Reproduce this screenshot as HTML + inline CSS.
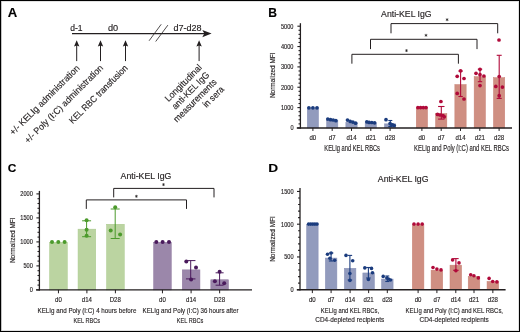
<!DOCTYPE html>
<html><head><meta charset="utf-8"><title>Figure</title>
<style>
html,body{margin:0;padding:0;background:#fff;width:520px;height:332px;overflow:hidden;}
svg{display:block;will-change:transform;}
text{font-family:"Liberation Sans", sans-serif;stroke:#231f20;stroke-width:0.15px;}
</style></head><body>
<svg width="520" height="332" viewBox="0 0 520 332">
<rect x="0.5" y="0.5" width="519" height="331" fill="#fff" stroke="#000" stroke-width="1"/>
<rect x="1.5" y="1.5" width="517" height="329" fill="none" stroke="#e2e2e2" stroke-width="1"/>
<line x1="1.5" y1="1" x2="1.5" y2="331" stroke="#c4c4c4" stroke-width="1"/>
<text x="7.67" y="17.4" font-size="12.75" fill="#000" font-weight="bold" textLength="9.49" lengthAdjust="spacingAndGlyphs" stroke="#000" stroke-width="0.25">A</text>
<text x="268.21" y="17.4" font-size="12.46" fill="#000" font-weight="bold" textLength="8.76" lengthAdjust="spacingAndGlyphs" stroke="#000" stroke-width="0.25">B</text>
<text x="7.82" y="172.4" font-size="11.57" fill="#000" font-weight="bold" textLength="8.6" lengthAdjust="spacingAndGlyphs" stroke="#000" stroke-width="0.25">C</text>
<text x="268.31" y="172" font-size="11.59" fill="#000" font-weight="bold" textLength="9.86" lengthAdjust="spacingAndGlyphs" stroke="#000" stroke-width="0.25">D</text>
<line x1="72" y1="33.6" x2="205" y2="33.6" stroke="#231f20" stroke-width="1.4"/>
<polygon points="202.3,30 211.6,33.6 202.3,37.2 204.3,33.6" fill="#231f20"/>
<line x1="149.1" y1="40.75" x2="161.2" y2="24.3" stroke="#231f20" stroke-width="0.8"/>
<line x1="155.7" y1="41.5" x2="167.9" y2="25.1" stroke="#231f20" stroke-width="0.8"/>
<text x="70.16" y="31.4" font-size="8.14" fill="#231f20" textLength="12.33" lengthAdjust="spacingAndGlyphs">d-1</text>
<text x="107.93" y="31.4" font-size="8.41" fill="#231f20" textLength="10.21" lengthAdjust="spacingAndGlyphs">d0</text>
<text x="173.54" y="31.4" font-size="8.14" fill="#231f20" textLength="28.11" lengthAdjust="spacingAndGlyphs">d7-d28</text>
<line x1="76.7" y1="45" x2="76.7" y2="61.1" stroke="#231f20" stroke-width="1.0"/>
<polygon points="74,46.6 76.7,40.2 79.4,46.6 76.7,45.6" fill="#231f20"/>
<line x1="100.5" y1="45" x2="100.5" y2="61.1" stroke="#231f20" stroke-width="1.0"/>
<polygon points="97.8,46.6 100.5,40.2 103.2,46.6 100.5,45.6" fill="#231f20"/>
<line x1="125.5" y1="45" x2="125.5" y2="61.1" stroke="#231f20" stroke-width="1.0"/>
<polygon points="122.8,46.6 125.5,40.2 128.2,46.6 125.5,45.6" fill="#231f20"/>
<line x1="199.1" y1="45" x2="199.1" y2="61.1" stroke="#231f20" stroke-width="1.0"/>
<polygon points="196.4,46.6 199.1,40.2 201.8,46.6 199.1,45.6" fill="#231f20"/>
<text x="0" y="0" font-size="9.2" fill="#231f20" text-anchor="end" textLength="94.7" lengthAdjust="spacingAndGlyphs" transform="translate(80.2 68.8) rotate(-45)">+/- KELIg administration</text>
<text x="0" y="0" font-size="9.2" fill="#231f20" text-anchor="end" textLength="106.6" lengthAdjust="spacingAndGlyphs" transform="translate(103.6 68.6) rotate(-45)">+/- Poly (I:C) administration</text>
<text x="0" y="0" font-size="9.2" fill="#231f20" text-anchor="end" textLength="78.8" lengthAdjust="spacingAndGlyphs" transform="translate(128.4 68.6) rotate(-45)">KEL RBC transfusion</text>
<text x="0" y="0" font-size="9.2" fill="#231f20" text-anchor="end" textLength="48.0" lengthAdjust="spacingAndGlyphs" transform="translate(202.5 68.2) rotate(-45)">Longitudinal</text>
<text x="0" y="0" font-size="9.2" fill="#231f20" text-anchor="end" textLength="48.8" lengthAdjust="spacingAndGlyphs" transform="translate(209.9 75.5) rotate(-45)">anti-KEL IgG</text>
<text x="0" y="0" font-size="9.2" fill="#231f20" text-anchor="end" textLength="56.7" lengthAdjust="spacingAndGlyphs" transform="translate(217.2 82.7) rotate(-45)">measurements</text>
<text x="0" y="0" font-size="9.2" fill="#231f20" text-anchor="end" textLength="25.6" lengthAdjust="spacingAndGlyphs" transform="translate(224.6 90.0) rotate(-45)">in sera</text>
<text x="381.1" y="17.1" font-size="8.55" fill="#231f20" textLength="50.54" lengthAdjust="spacingAndGlyphs" stroke-width="0.1">Anti-KEL IgG</text>
<rect x="307.25" y="107.85" width="11.3" height="20.1" fill="#929bbd" stroke="#8992b8" stroke-width="0.5"/>
<rect x="326.55" y="120.55" width="11.3" height="7.4" fill="#929bbd" stroke="#8992b8" stroke-width="0.5"/>
<rect x="345.85" y="122.25" width="11.3" height="5.7" fill="#929bbd" stroke="#8992b8" stroke-width="0.5"/>
<rect x="365.15" y="122.85" width="11.3" height="5.1" fill="#929bbd" stroke="#8992b8" stroke-width="0.5"/>
<rect x="384.45" y="123.85" width="11.3" height="4.1" fill="#929bbd" stroke="#8992b8" stroke-width="0.5"/>
<rect x="416.25" y="107.85" width="11.3" height="20.1" fill="#cf8f82" stroke="#c88074" stroke-width="0.5"/>
<rect x="435.55" y="113.55" width="11.3" height="14.4" fill="#cf8f82" stroke="#c88074" stroke-width="0.5"/>
<rect x="454.85" y="84.55" width="11.3" height="43.4" fill="#cf8f82" stroke="#c88074" stroke-width="0.5"/>
<rect x="474.15" y="76.65" width="11.3" height="51.3" fill="#cf8f82" stroke="#c88074" stroke-width="0.5"/>
<rect x="493.45" y="77.65" width="11.3" height="50.3" fill="#cf8f82" stroke="#c88074" stroke-width="0.5"/>
<line x1="300.4" y1="23.2" x2="300.4" y2="128.65" stroke="#231f20" stroke-width="1.3"/>
<line x1="297.4" y1="127.95" x2="300.4" y2="127.95" stroke="#231f20" stroke-width="1.1"/>
<text x="290.38" y="130.26" font-size="6.6" fill="#231f20" textLength="3.12" lengthAdjust="spacingAndGlyphs" stroke-width="0.05">0</text>
<line x1="298.5" y1="123.88" x2="300.4" y2="123.88" stroke="#231f20" stroke-width="1.1"/>
<line x1="298.5" y1="119.81" x2="300.4" y2="119.81" stroke="#231f20" stroke-width="1.1"/>
<line x1="298.5" y1="115.74" x2="300.4" y2="115.74" stroke="#231f20" stroke-width="1.1"/>
<line x1="298.5" y1="111.67" x2="300.4" y2="111.67" stroke="#231f20" stroke-width="1.1"/>
<line x1="297.4" y1="107.6" x2="300.4" y2="107.6" stroke="#231f20" stroke-width="1.1"/>
<text x="281.01" y="109.91" font-size="6.6" fill="#231f20" textLength="12.48" lengthAdjust="spacingAndGlyphs" stroke-width="0.05">1000</text>
<line x1="298.5" y1="103.53" x2="300.4" y2="103.53" stroke="#231f20" stroke-width="1.1"/>
<line x1="298.5" y1="99.46" x2="300.4" y2="99.46" stroke="#231f20" stroke-width="1.1"/>
<line x1="298.5" y1="95.39" x2="300.4" y2="95.39" stroke="#231f20" stroke-width="1.1"/>
<line x1="298.5" y1="91.32" x2="300.4" y2="91.32" stroke="#231f20" stroke-width="1.1"/>
<line x1="297.4" y1="87.25" x2="300.4" y2="87.25" stroke="#231f20" stroke-width="1.1"/>
<text x="281.01" y="89.56" font-size="6.6" fill="#231f20" textLength="12.48" lengthAdjust="spacingAndGlyphs" stroke-width="0.05">2000</text>
<line x1="298.5" y1="83.18" x2="300.4" y2="83.18" stroke="#231f20" stroke-width="1.1"/>
<line x1="298.5" y1="79.11" x2="300.4" y2="79.11" stroke="#231f20" stroke-width="1.1"/>
<line x1="298.5" y1="75.04" x2="300.4" y2="75.04" stroke="#231f20" stroke-width="1.1"/>
<line x1="298.5" y1="70.97" x2="300.4" y2="70.97" stroke="#231f20" stroke-width="1.1"/>
<line x1="297.4" y1="66.9" x2="300.4" y2="66.9" stroke="#231f20" stroke-width="1.1"/>
<text x="281.01" y="69.21" font-size="6.6" fill="#231f20" textLength="12.48" lengthAdjust="spacingAndGlyphs" stroke-width="0.05">3000</text>
<line x1="298.5" y1="62.83" x2="300.4" y2="62.83" stroke="#231f20" stroke-width="1.1"/>
<line x1="298.5" y1="58.76" x2="300.4" y2="58.76" stroke="#231f20" stroke-width="1.1"/>
<line x1="298.5" y1="54.69" x2="300.4" y2="54.69" stroke="#231f20" stroke-width="1.1"/>
<line x1="298.5" y1="50.62" x2="300.4" y2="50.62" stroke="#231f20" stroke-width="1.1"/>
<line x1="297.4" y1="46.55" x2="300.4" y2="46.55" stroke="#231f20" stroke-width="1.1"/>
<text x="281.01" y="48.86" font-size="6.6" fill="#231f20" textLength="12.48" lengthAdjust="spacingAndGlyphs" stroke-width="0.05">4000</text>
<line x1="298.5" y1="42.48" x2="300.4" y2="42.48" stroke="#231f20" stroke-width="1.1"/>
<line x1="298.5" y1="38.41" x2="300.4" y2="38.41" stroke="#231f20" stroke-width="1.1"/>
<line x1="298.5" y1="34.34" x2="300.4" y2="34.34" stroke="#231f20" stroke-width="1.1"/>
<line x1="298.5" y1="30.27" x2="300.4" y2="30.27" stroke="#231f20" stroke-width="1.1"/>
<line x1="297.4" y1="26.2" x2="300.4" y2="26.2" stroke="#231f20" stroke-width="1.1"/>
<text x="281.01" y="28.51" font-size="6.6" fill="#231f20" textLength="12.48" lengthAdjust="spacingAndGlyphs" stroke-width="0.05">5000</text>
<line x1="296.8" y1="127.95" x2="512" y2="127.95" stroke="#231f20" stroke-width="1.4"/>
<text x="0" y="0" font-size="7.6" fill="#231f20" textLength="45.71" lengthAdjust="spacingAndGlyphs" transform="translate(275 98.12) rotate(-90)">Normalized MFI</text>
<line x1="312.9" y1="127.95" x2="312.9" y2="130.95" stroke="#231f20" stroke-width="1.0"/>
<text x="309.51" y="139.6" font-size="6.9" fill="#231f20" textLength="6.75" lengthAdjust="spacingAndGlyphs" stroke-width="0.05">d0</text>
<line x1="332.2" y1="127.95" x2="332.2" y2="130.95" stroke="#231f20" stroke-width="1.0"/>
<text x="328.86" y="139.6" font-size="6.9" fill="#231f20" textLength="6.75" lengthAdjust="spacingAndGlyphs" stroke-width="0.05">d7</text>
<line x1="351.5" y1="127.95" x2="351.5" y2="130.95" stroke="#231f20" stroke-width="1.0"/>
<text x="346.41" y="139.6" font-size="6.9" fill="#231f20" textLength="10.13" lengthAdjust="spacingAndGlyphs" stroke-width="0.05">d14</text>
<line x1="370.8" y1="127.95" x2="370.8" y2="130.95" stroke="#231f20" stroke-width="1.0"/>
<text x="365.76" y="139.6" font-size="6.9" fill="#231f20" textLength="10.13" lengthAdjust="spacingAndGlyphs" stroke-width="0.05">d21</text>
<line x1="390.1" y1="127.95" x2="390.1" y2="130.95" stroke="#231f20" stroke-width="1.0"/>
<text x="385.05" y="139.6" font-size="6.9" fill="#231f20" textLength="10.13" lengthAdjust="spacingAndGlyphs" stroke-width="0.05">d28</text>
<line x1="421.9" y1="127.95" x2="421.9" y2="130.95" stroke="#231f20" stroke-width="1.0"/>
<text x="418.51" y="139.6" font-size="6.9" fill="#231f20" textLength="6.75" lengthAdjust="spacingAndGlyphs" stroke-width="0.05">d0</text>
<line x1="441.2" y1="127.95" x2="441.2" y2="130.95" stroke="#231f20" stroke-width="1.0"/>
<text x="437.86" y="139.6" font-size="6.9" fill="#231f20" textLength="6.75" lengthAdjust="spacingAndGlyphs" stroke-width="0.05">d7</text>
<line x1="460.5" y1="127.95" x2="460.5" y2="130.95" stroke="#231f20" stroke-width="1.0"/>
<text x="455.41" y="139.6" font-size="6.9" fill="#231f20" textLength="10.13" lengthAdjust="spacingAndGlyphs" stroke-width="0.05">d14</text>
<line x1="479.8" y1="127.95" x2="479.8" y2="130.95" stroke="#231f20" stroke-width="1.0"/>
<text x="474.76" y="139.6" font-size="6.9" fill="#231f20" textLength="10.13" lengthAdjust="spacingAndGlyphs" stroke-width="0.05">d21</text>
<line x1="499.1" y1="127.95" x2="499.1" y2="130.95" stroke="#231f20" stroke-width="1.0"/>
<text x="494.05" y="139.6" font-size="6.9" fill="#231f20" textLength="10.13" lengthAdjust="spacingAndGlyphs" stroke-width="0.05">d28</text>
<text x="324.34" y="150.9" font-size="8.26" fill="#231f20" textLength="55.66" lengthAdjust="spacingAndGlyphs">KELIg and KEL RBCs</text>
<text x="414.03" y="151.1" font-size="8.26" fill="#231f20" textLength="94.99" lengthAdjust="spacingAndGlyphs">KELIg and Poly (I:C) and KEL RBCs</text>
<line x1="390.3" y1="120.5" x2="390.3" y2="126.5" stroke="#1b3c7e" stroke-width="1.1"/>
<line x1="388.3" y1="120.5" x2="392.3" y2="120.5" stroke="#1b3c7e" stroke-width="1.1"/>
<line x1="388.3" y1="126.5" x2="392.3" y2="126.5" stroke="#1b3c7e" stroke-width="1.1"/>
<line x1="441.3" y1="106.5" x2="441.3" y2="119.1" stroke="#b00a3a" stroke-width="1.1"/>
<line x1="438.1" y1="106.5" x2="444.5" y2="106.5" stroke="#b00a3a" stroke-width="1.1"/>
<line x1="438.1" y1="119.1" x2="444.5" y2="119.1" stroke="#b00a3a" stroke-width="1.1"/>
<line x1="460.6" y1="71.1" x2="460.6" y2="96.5" stroke="#b00a3a" stroke-width="1.1"/>
<line x1="458.4" y1="71.1" x2="462.8" y2="71.1" stroke="#b00a3a" stroke-width="1.1"/>
<line x1="458.4" y1="96.5" x2="462.8" y2="96.5" stroke="#b00a3a" stroke-width="1.1"/>
<line x1="480" y1="69.2" x2="480" y2="81.7" stroke="#b00a3a" stroke-width="1.1"/>
<line x1="477.8" y1="69.2" x2="482.2" y2="69.2" stroke="#b00a3a" stroke-width="1.1"/>
<line x1="477.8" y1="81.7" x2="482.2" y2="81.7" stroke="#b00a3a" stroke-width="1.1"/>
<line x1="499.2" y1="55.3" x2="499.2" y2="98.4" stroke="#b00a3a" stroke-width="1.1"/>
<line x1="496.7" y1="55.3" x2="501.7" y2="55.3" stroke="#b00a3a" stroke-width="1.1"/>
<line x1="496.7" y1="98.4" x2="501.7" y2="98.4" stroke="#b00a3a" stroke-width="1.1"/>
<circle cx="308.9" cy="107.8" r="1.85" fill="#1b3c7e"/>
<circle cx="312.9" cy="107.8" r="1.85" fill="#1b3c7e"/>
<circle cx="317" cy="107.8" r="1.85" fill="#1b3c7e"/>
<circle cx="327.8" cy="119.1" r="1.85" fill="#1b3c7e"/>
<circle cx="330.5" cy="119.7" r="1.85" fill="#1b3c7e"/>
<circle cx="333.2" cy="120" r="1.85" fill="#1b3c7e"/>
<circle cx="335.9" cy="120.7" r="1.85" fill="#1b3c7e"/>
<circle cx="347.5" cy="120.1" r="1.85" fill="#1b3c7e"/>
<circle cx="350.2" cy="121.4" r="1.85" fill="#1b3c7e"/>
<circle cx="352.9" cy="122.1" r="1.85" fill="#1b3c7e"/>
<circle cx="355.6" cy="123.2" r="1.85" fill="#1b3c7e"/>
<circle cx="366.8" cy="121.8" r="1.85" fill="#1b3c7e"/>
<circle cx="369.1" cy="122.4" r="1.85" fill="#1b3c7e"/>
<circle cx="371.8" cy="122.5" r="1.85" fill="#1b3c7e"/>
<circle cx="374.6" cy="122.8" r="1.85" fill="#1b3c7e"/>
<circle cx="386" cy="119.7" r="1.85" fill="#1b3c7e"/>
<circle cx="390.1" cy="123.5" r="1.85" fill="#1b3c7e"/>
<circle cx="394.2" cy="125.5" r="1.85" fill="#1b3c7e"/>
<circle cx="392.5" cy="124.8" r="1.85" fill="#1b3c7e"/>
<circle cx="417.9" cy="107.6" r="1.85" fill="#b00a3a"/>
<circle cx="420.6" cy="107.6" r="1.85" fill="#b00a3a"/>
<circle cx="423.3" cy="107.6" r="1.85" fill="#b00a3a"/>
<circle cx="426" cy="107.6" r="1.85" fill="#b00a3a"/>
<circle cx="440.9" cy="101.5" r="1.85" fill="#b00a3a"/>
<circle cx="437.5" cy="114.4" r="1.85" fill="#b00a3a"/>
<circle cx="440" cy="115" r="1.85" fill="#b00a3a"/>
<circle cx="443" cy="115.7" r="1.85" fill="#b00a3a"/>
<circle cx="444.3" cy="116.8" r="1.85" fill="#b00a3a"/>
<circle cx="460.6" cy="70.8" r="1.85" fill="#b00a3a"/>
<circle cx="457.2" cy="76.3" r="1.85" fill="#b00a3a"/>
<circle cx="464" cy="78.5" r="1.85" fill="#b00a3a"/>
<circle cx="457.2" cy="93.4" r="1.85" fill="#b00a3a"/>
<circle cx="464" cy="99" r="1.85" fill="#b00a3a"/>
<circle cx="480" cy="69.3" r="1.85" fill="#b00a3a"/>
<circle cx="476" cy="73.3" r="1.85" fill="#b00a3a"/>
<circle cx="480" cy="74.7" r="1.85" fill="#b00a3a"/>
<circle cx="483.9" cy="76" r="1.85" fill="#b00a3a"/>
<circle cx="480" cy="85.6" r="1.85" fill="#b00a3a"/>
<circle cx="499" cy="40" r="1.85" fill="#b00a3a"/>
<circle cx="499.2" cy="76.5" r="1.85" fill="#b00a3a"/>
<circle cx="495.8" cy="86.4" r="1.85" fill="#b00a3a"/>
<circle cx="502.4" cy="87.1" r="1.85" fill="#b00a3a"/>
<circle cx="499.2" cy="95.7" r="1.85" fill="#b00a3a"/>
<polyline points="391,33.3 391,23.6 497.7,23.6 497.7,33.3" fill="none" stroke="#231f20" stroke-width="1.0"/>
<polyline points="370.5,49.1 370.5,39.3 477,39.3 477,49.1" fill="none" stroke="#231f20" stroke-width="1.0"/>
<polyline points="351.9,63.7 351.9,54.3 458.4,54.3 458.4,63.7" fill="none" stroke="#231f20" stroke-width="1.0"/>
<g stroke="#231f20" stroke-width="0.7" stroke-linecap="round"><line x1="447.1" y1="18.65" x2="447.1" y2="20.75"/><line x1="446.19" y1="19.18" x2="448.01" y2="20.22"/><line x1="446.19" y1="20.22" x2="448.01" y2="19.18"/></g>
<g stroke="#231f20" stroke-width="0.7" stroke-linecap="round"><line x1="426" y1="34.25" x2="426" y2="36.35"/><line x1="425.09" y1="34.77" x2="426.91" y2="35.82"/><line x1="425.09" y1="35.82" x2="426.91" y2="34.77"/></g>
<g stroke="#231f20" stroke-width="0.7" stroke-linecap="round"><line x1="406.5" y1="49.55" x2="406.5" y2="51.65"/><line x1="405.59" y1="50.08" x2="407.41" y2="51.12"/><line x1="405.59" y1="51.12" x2="407.41" y2="50.08"/></g>
<text x="120.6" y="179.4" font-size="8.41" fill="#231f20" textLength="50.85" lengthAdjust="spacingAndGlyphs" stroke-width="0.1">Anti-KEL IgG</text>
<rect x="49.6" y="242.35" width="17.7" height="47.55" fill="#bbd4a1" stroke="#a9c98c" stroke-width="0.5"/>
<rect x="78.05" y="229.15" width="17.7" height="60.75" fill="#bbd4a1" stroke="#a9c98c" stroke-width="0.5"/>
<rect x="106.55" y="224.25" width="17.7" height="65.65" fill="#bbd4a1" stroke="#a9c98c" stroke-width="0.5"/>
<rect x="153.6" y="242.25" width="17.7" height="47.65" fill="#9b87aa" stroke="#8f799f" stroke-width="0.5"/>
<rect x="182.25" y="269.85" width="17.7" height="20.05" fill="#9b87aa" stroke="#8f799f" stroke-width="0.5"/>
<rect x="210.8" y="279.75" width="17.7" height="10.15" fill="#9b87aa" stroke="#8f799f" stroke-width="0.5"/>
<line x1="39.4" y1="190.9" x2="39.4" y2="290.6" stroke="#231f20" stroke-width="1.3"/>
<line x1="36.4" y1="289.9" x2="39.4" y2="289.9" stroke="#231f20" stroke-width="1.1"/>
<text x="29.68" y="292.21" font-size="6.6" fill="#231f20" textLength="3.12" lengthAdjust="spacingAndGlyphs" stroke-width="0.05">0</text>
<line x1="37.5" y1="285.1" x2="39.4" y2="285.1" stroke="#231f20" stroke-width="1.1"/>
<line x1="37.5" y1="280.3" x2="39.4" y2="280.3" stroke="#231f20" stroke-width="1.1"/>
<line x1="37.5" y1="275.5" x2="39.4" y2="275.5" stroke="#231f20" stroke-width="1.1"/>
<line x1="37.5" y1="270.7" x2="39.4" y2="270.7" stroke="#231f20" stroke-width="1.1"/>
<line x1="36.4" y1="265.9" x2="39.4" y2="265.9" stroke="#231f20" stroke-width="1.1"/>
<text x="23.46" y="268.21" font-size="6.6" fill="#231f20" textLength="9.36" lengthAdjust="spacingAndGlyphs" stroke-width="0.05">500</text>
<line x1="37.5" y1="261.1" x2="39.4" y2="261.1" stroke="#231f20" stroke-width="1.1"/>
<line x1="37.5" y1="256.3" x2="39.4" y2="256.3" stroke="#231f20" stroke-width="1.1"/>
<line x1="37.5" y1="251.5" x2="39.4" y2="251.5" stroke="#231f20" stroke-width="1.1"/>
<line x1="37.5" y1="246.7" x2="39.4" y2="246.7" stroke="#231f20" stroke-width="1.1"/>
<line x1="36.4" y1="241.9" x2="39.4" y2="241.9" stroke="#231f20" stroke-width="1.1"/>
<text x="20.31" y="244.21" font-size="6.6" fill="#231f20" textLength="12.48" lengthAdjust="spacingAndGlyphs" stroke-width="0.05">1000</text>
<line x1="37.5" y1="237.1" x2="39.4" y2="237.1" stroke="#231f20" stroke-width="1.1"/>
<line x1="37.5" y1="232.3" x2="39.4" y2="232.3" stroke="#231f20" stroke-width="1.1"/>
<line x1="37.5" y1="227.5" x2="39.4" y2="227.5" stroke="#231f20" stroke-width="1.1"/>
<line x1="37.5" y1="222.7" x2="39.4" y2="222.7" stroke="#231f20" stroke-width="1.1"/>
<line x1="36.4" y1="217.9" x2="39.4" y2="217.9" stroke="#231f20" stroke-width="1.1"/>
<text x="20.31" y="220.21" font-size="6.6" fill="#231f20" textLength="12.48" lengthAdjust="spacingAndGlyphs" stroke-width="0.05">1500</text>
<line x1="37.5" y1="213.1" x2="39.4" y2="213.1" stroke="#231f20" stroke-width="1.1"/>
<line x1="37.5" y1="208.3" x2="39.4" y2="208.3" stroke="#231f20" stroke-width="1.1"/>
<line x1="37.5" y1="203.5" x2="39.4" y2="203.5" stroke="#231f20" stroke-width="1.1"/>
<line x1="37.5" y1="198.7" x2="39.4" y2="198.7" stroke="#231f20" stroke-width="1.1"/>
<line x1="36.4" y1="193.9" x2="39.4" y2="193.9" stroke="#231f20" stroke-width="1.1"/>
<text x="20.31" y="196.21" font-size="6.6" fill="#231f20" textLength="12.48" lengthAdjust="spacingAndGlyphs" stroke-width="0.05">2000</text>
<line x1="36" y1="289.9" x2="252" y2="289.9" stroke="#231f20" stroke-width="1.4"/>
<text x="0" y="0" font-size="7.6" fill="#231f20" textLength="45.71" lengthAdjust="spacingAndGlyphs" transform="translate(14.8 263.12) rotate(-90)">Normalized MFI</text>
<line x1="58.45" y1="289.9" x2="58.45" y2="293.3" stroke="#231f20" stroke-width="1.0"/>
<text x="55.06" y="301.6" font-size="6.9" fill="#231f20" textLength="6.75" lengthAdjust="spacingAndGlyphs" stroke-width="0.05">d0</text>
<line x1="86.9" y1="289.9" x2="86.9" y2="293.3" stroke="#231f20" stroke-width="1.0"/>
<text x="81.81" y="301.6" font-size="6.9" fill="#231f20" textLength="10.13" lengthAdjust="spacingAndGlyphs" stroke-width="0.05">d14</text>
<line x1="115.4" y1="289.9" x2="115.4" y2="293.3" stroke="#231f20" stroke-width="1.0"/>
<text x="109.71" y="301.6" font-size="6.9" fill="#231f20" textLength="11.14" lengthAdjust="spacingAndGlyphs" stroke-width="0.05">D28</text>
<line x1="162.45" y1="289.9" x2="162.45" y2="293.3" stroke="#231f20" stroke-width="1.0"/>
<text x="159.06" y="301.6" font-size="6.9" fill="#231f20" textLength="6.75" lengthAdjust="spacingAndGlyphs" stroke-width="0.05">d0</text>
<line x1="191.1" y1="289.9" x2="191.1" y2="293.3" stroke="#231f20" stroke-width="1.0"/>
<text x="186.01" y="301.6" font-size="6.9" fill="#231f20" textLength="10.13" lengthAdjust="spacingAndGlyphs" stroke-width="0.05">d14</text>
<line x1="219.65" y1="289.9" x2="219.65" y2="293.3" stroke="#231f20" stroke-width="1.0"/>
<text x="213.96" y="301.6" font-size="6.9" fill="#231f20" textLength="11.14" lengthAdjust="spacingAndGlyphs" stroke-width="0.05">D28</text>
<text x="37.5" y="312.9" font-size="7.68" fill="#231f20" textLength="98.89" lengthAdjust="spacingAndGlyphs">KELIg and Poly (I:C) 4 hours before</text>
<text x="73.55" y="322.8" font-size="8.12" fill="#231f20" textLength="26.45" lengthAdjust="spacingAndGlyphs">KEL RBCs</text>
<text x="142.61" y="312.9" font-size="7.68" fill="#231f20" textLength="95.91" lengthAdjust="spacingAndGlyphs">KELIg and Poly (I:C) 36 hours after</text>
<text x="176.75" y="322.8" font-size="8.12" fill="#231f20" textLength="26.45" lengthAdjust="spacingAndGlyphs">KEL RBCs</text>
<line x1="86.6" y1="220.8" x2="86.6" y2="236.7" stroke="#4c9a2c" stroke-width="1.0"/>
<line x1="82.1" y1="220.8" x2="91.1" y2="220.8" stroke="#4c9a2c" stroke-width="1.0"/>
<line x1="82.1" y1="236.7" x2="91.1" y2="236.7" stroke="#4c9a2c" stroke-width="1.0"/>
<line x1="115.2" y1="209" x2="115.2" y2="238.5" stroke="#4c9a2c" stroke-width="1.0"/>
<line x1="110.7" y1="209" x2="119.7" y2="209" stroke="#4c9a2c" stroke-width="1.0"/>
<line x1="110.7" y1="238.5" x2="119.7" y2="238.5" stroke="#4c9a2c" stroke-width="1.0"/>
<line x1="190.7" y1="260.6" x2="190.7" y2="278.9" stroke="#4a1a5c" stroke-width="1.0"/>
<line x1="185.95" y1="260.6" x2="195.45" y2="260.6" stroke="#4a1a5c" stroke-width="1.0"/>
<line x1="185.95" y1="278.9" x2="195.45" y2="278.9" stroke="#4a1a5c" stroke-width="1.0"/>
<line x1="219.6" y1="272.8" x2="219.6" y2="285.2" stroke="#4a1a5c" stroke-width="1.0"/>
<line x1="215.6" y1="272.8" x2="223.6" y2="272.8" stroke="#4a1a5c" stroke-width="1.0"/>
<line x1="215.6" y1="285.2" x2="223.6" y2="285.2" stroke="#4a1a5c" stroke-width="1.0"/>
<circle cx="52" cy="242.1" r="2.0" fill="#4c9a2c"/>
<circle cx="58.3" cy="242.1" r="2.0" fill="#4c9a2c"/>
<circle cx="64.6" cy="242.1" r="2.0" fill="#4c9a2c"/>
<circle cx="86.6" cy="220.3" r="2.0" fill="#4c9a2c"/>
<circle cx="86.6" cy="229.8" r="2.0" fill="#4c9a2c"/>
<circle cx="86.6" cy="235.8" r="2.0" fill="#4c9a2c"/>
<circle cx="115.2" cy="207.2" r="2.0" fill="#4c9a2c"/>
<circle cx="110.7" cy="230.4" r="2.0" fill="#4c9a2c"/>
<circle cx="120.1" cy="234.4" r="2.0" fill="#4c9a2c"/>
<circle cx="156.3" cy="242" r="2.0" fill="#4a1a5c"/>
<circle cx="162.6" cy="242" r="2.0" fill="#4a1a5c"/>
<circle cx="169" cy="242" r="2.0" fill="#4a1a5c"/>
<circle cx="186.3" cy="261.6" r="2.0" fill="#4a1a5c"/>
<circle cx="196" cy="267.5" r="2.0" fill="#4a1a5c"/>
<circle cx="191.1" cy="279.5" r="2.0" fill="#4a1a5c"/>
<circle cx="219.6" cy="271.7" r="2.0" fill="#4a1a5c"/>
<circle cx="214.9" cy="281.2" r="2.0" fill="#4a1a5c"/>
<circle cx="224.2" cy="283.3" r="2.0" fill="#4a1a5c"/>
<polyline points="113.7,197.4 113.7,188.4 214,188.4 214,197.4" fill="none" stroke="#231f20" stroke-width="1.0"/>
<polyline points="86.3,208.9 86.3,199.9 186.5,199.9 186.5,208.9" fill="none" stroke="#231f20" stroke-width="1.0"/>
<g stroke="#231f20" stroke-width="0.7" stroke-linecap="round"><line x1="163.5" y1="183.55" x2="163.5" y2="185.65"/><line x1="162.59" y1="184.07" x2="164.41" y2="185.12"/><line x1="162.59" y1="185.12" x2="164.41" y2="184.07"/></g>
<g stroke="#231f20" stroke-width="0.7" stroke-linecap="round"><line x1="136.4" y1="195.25" x2="136.4" y2="197.35"/><line x1="135.49" y1="195.78" x2="137.31" y2="196.83"/><line x1="135.49" y1="196.83" x2="137.31" y2="195.78"/></g>
<text x="377.8" y="182.3" font-size="8.41" fill="#231f20" textLength="50.75" lengthAdjust="spacingAndGlyphs" stroke-width="0.1">Anti-KEL IgG</text>
<rect x="306.55" y="224.35" width="11.6" height="65.35" fill="#929bbd" stroke="#8992b8" stroke-width="0.5"/>
<rect x="325.3" y="258.05" width="11.6" height="31.65" fill="#929bbd" stroke="#8992b8" stroke-width="0.5"/>
<rect x="344.3" y="268.25" width="11.6" height="21.45" fill="#929bbd" stroke="#8992b8" stroke-width="0.5"/>
<rect x="362.85" y="272.95" width="11.6" height="16.75" fill="#929bbd" stroke="#8992b8" stroke-width="0.5"/>
<rect x="381.5" y="279.05" width="11.6" height="10.65" fill="#929bbd" stroke="#8992b8" stroke-width="0.5"/>
<rect x="412.3" y="224.35" width="11.6" height="65.35" fill="#cf8f82" stroke="#c88074" stroke-width="0.5"/>
<rect x="431.1" y="270.15" width="11.6" height="19.55" fill="#cf8f82" stroke="#c88074" stroke-width="0.5"/>
<rect x="450" y="265.15" width="11.6" height="24.55" fill="#cf8f82" stroke="#c88074" stroke-width="0.5"/>
<rect x="468.2" y="276.35" width="11.6" height="13.35" fill="#cf8f82" stroke="#c88074" stroke-width="0.5"/>
<rect x="487.05" y="281.45" width="11.6" height="8.25" fill="#cf8f82" stroke="#c88074" stroke-width="0.5"/>
<line x1="300" y1="188" x2="300" y2="290.4" stroke="#231f20" stroke-width="1.3"/>
<line x1="297" y1="289.7" x2="300" y2="289.7" stroke="#231f20" stroke-width="1.1"/>
<text x="290.48" y="292.01" font-size="6.6" fill="#231f20" textLength="3.12" lengthAdjust="spacingAndGlyphs" stroke-width="0.05">0</text>
<line x1="298.1" y1="283.15" x2="300" y2="283.15" stroke="#231f20" stroke-width="1.1"/>
<line x1="298.1" y1="276.6" x2="300" y2="276.6" stroke="#231f20" stroke-width="1.1"/>
<line x1="298.1" y1="270.05" x2="300" y2="270.05" stroke="#231f20" stroke-width="1.1"/>
<line x1="298.1" y1="263.5" x2="300" y2="263.5" stroke="#231f20" stroke-width="1.1"/>
<line x1="297" y1="256.95" x2="300" y2="256.95" stroke="#231f20" stroke-width="1.1"/>
<text x="284.26" y="259.26" font-size="6.6" fill="#231f20" textLength="9.36" lengthAdjust="spacingAndGlyphs" stroke-width="0.05">500</text>
<line x1="298.1" y1="250.4" x2="300" y2="250.4" stroke="#231f20" stroke-width="1.1"/>
<line x1="298.1" y1="243.85" x2="300" y2="243.85" stroke="#231f20" stroke-width="1.1"/>
<line x1="298.1" y1="237.3" x2="300" y2="237.3" stroke="#231f20" stroke-width="1.1"/>
<line x1="298.1" y1="230.75" x2="300" y2="230.75" stroke="#231f20" stroke-width="1.1"/>
<line x1="297" y1="224.2" x2="300" y2="224.2" stroke="#231f20" stroke-width="1.1"/>
<text x="281.11" y="226.51" font-size="6.6" fill="#231f20" textLength="12.48" lengthAdjust="spacingAndGlyphs" stroke-width="0.05">1000</text>
<line x1="298.1" y1="217.65" x2="300" y2="217.65" stroke="#231f20" stroke-width="1.1"/>
<line x1="298.1" y1="211.1" x2="300" y2="211.1" stroke="#231f20" stroke-width="1.1"/>
<line x1="298.1" y1="204.55" x2="300" y2="204.55" stroke="#231f20" stroke-width="1.1"/>
<line x1="298.1" y1="198" x2="300" y2="198" stroke="#231f20" stroke-width="1.1"/>
<line x1="297" y1="191.45" x2="300" y2="191.45" stroke="#231f20" stroke-width="1.1"/>
<text x="281.11" y="193.76" font-size="6.6" fill="#231f20" textLength="12.48" lengthAdjust="spacingAndGlyphs" stroke-width="0.05">1500</text>
<line x1="296.8" y1="289.7" x2="505.6" y2="289.7" stroke="#231f20" stroke-width="1.4"/>
<text x="0" y="0" font-size="7.6" fill="#231f20" textLength="45.61" lengthAdjust="spacingAndGlyphs" transform="translate(274.9 261.82) rotate(-90)">Normalized MFI</text>
<line x1="312.35" y1="289.7" x2="312.35" y2="293.1" stroke="#231f20" stroke-width="1.0"/>
<text x="308.96" y="301.6" font-size="6.9" fill="#231f20" textLength="6.75" lengthAdjust="spacingAndGlyphs" stroke-width="0.05">d0</text>
<line x1="331.1" y1="289.7" x2="331.1" y2="293.1" stroke="#231f20" stroke-width="1.0"/>
<text x="327.76" y="301.6" font-size="6.9" fill="#231f20" textLength="6.75" lengthAdjust="spacingAndGlyphs" stroke-width="0.05">d7</text>
<line x1="350.1" y1="289.7" x2="350.1" y2="293.1" stroke="#231f20" stroke-width="1.0"/>
<text x="345.01" y="301.6" font-size="6.9" fill="#231f20" textLength="10.13" lengthAdjust="spacingAndGlyphs" stroke-width="0.05">d14</text>
<line x1="368.65" y1="289.7" x2="368.65" y2="293.1" stroke="#231f20" stroke-width="1.0"/>
<text x="363.61" y="301.6" font-size="6.9" fill="#231f20" textLength="10.13" lengthAdjust="spacingAndGlyphs" stroke-width="0.05">d21</text>
<line x1="387.3" y1="289.7" x2="387.3" y2="293.1" stroke="#231f20" stroke-width="1.0"/>
<text x="382.25" y="301.6" font-size="6.9" fill="#231f20" textLength="10.13" lengthAdjust="spacingAndGlyphs" stroke-width="0.05">d28</text>
<line x1="418.1" y1="289.7" x2="418.1" y2="293.1" stroke="#231f20" stroke-width="1.0"/>
<text x="414.71" y="301.6" font-size="6.9" fill="#231f20" textLength="6.75" lengthAdjust="spacingAndGlyphs" stroke-width="0.05">d0</text>
<line x1="436.9" y1="289.7" x2="436.9" y2="293.1" stroke="#231f20" stroke-width="1.0"/>
<text x="433.56" y="301.6" font-size="6.9" fill="#231f20" textLength="6.75" lengthAdjust="spacingAndGlyphs" stroke-width="0.05">d7</text>
<line x1="455.8" y1="289.7" x2="455.8" y2="293.1" stroke="#231f20" stroke-width="1.0"/>
<text x="450.71" y="301.6" font-size="6.9" fill="#231f20" textLength="10.13" lengthAdjust="spacingAndGlyphs" stroke-width="0.05">d14</text>
<line x1="474" y1="289.7" x2="474" y2="293.1" stroke="#231f20" stroke-width="1.0"/>
<text x="468.96" y="301.6" font-size="6.9" fill="#231f20" textLength="10.13" lengthAdjust="spacingAndGlyphs" stroke-width="0.05">d21</text>
<line x1="492.85" y1="289.7" x2="492.85" y2="293.1" stroke="#231f20" stroke-width="1.0"/>
<text x="487.8" y="301.6" font-size="6.9" fill="#231f20" textLength="10.13" lengthAdjust="spacingAndGlyphs" stroke-width="0.05">d28</text>
<text x="320.83" y="313" font-size="7.54" fill="#231f20" textLength="58.29" lengthAdjust="spacingAndGlyphs">KELIg and KEL RBCs,</text>
<text x="315.28" y="322.4" font-size="7.83" fill="#231f20" textLength="68.94" lengthAdjust="spacingAndGlyphs">CD4-depleted recipients</text>
<text x="405.52" y="313" font-size="7.54" fill="#231f20" textLength="97.51" lengthAdjust="spacingAndGlyphs">KELIg and Poly (I:C) and KEL RBCs,</text>
<text x="419.48" y="322.4" font-size="7.83" fill="#231f20" textLength="69.34" lengthAdjust="spacingAndGlyphs">CD4-depleted recipients</text>
<line x1="331.1" y1="253" x2="331.1" y2="261" stroke="#1b3c7e" stroke-width="1.1"/>
<line x1="328.85" y1="253" x2="333.35" y2="253" stroke="#1b3c7e" stroke-width="1.1"/>
<line x1="328.85" y1="261" x2="333.35" y2="261" stroke="#1b3c7e" stroke-width="1.1"/>
<line x1="349.9" y1="255.4" x2="349.9" y2="280" stroke="#1b3c7e" stroke-width="1.1"/>
<line x1="347.65" y1="255.4" x2="352.15" y2="255.4" stroke="#1b3c7e" stroke-width="1.1"/>
<line x1="347.65" y1="280" x2="352.15" y2="280" stroke="#1b3c7e" stroke-width="1.1"/>
<line x1="368.4" y1="267.5" x2="368.4" y2="278" stroke="#1b3c7e" stroke-width="1.1"/>
<line x1="366.15" y1="267.5" x2="370.65" y2="267.5" stroke="#1b3c7e" stroke-width="1.1"/>
<line x1="366.15" y1="278" x2="370.65" y2="278" stroke="#1b3c7e" stroke-width="1.1"/>
<line x1="387.3" y1="276" x2="387.3" y2="281.5" stroke="#1b3c7e" stroke-width="1.1"/>
<line x1="385.3" y1="276" x2="389.3" y2="276" stroke="#1b3c7e" stroke-width="1.1"/>
<line x1="385.3" y1="281.5" x2="389.3" y2="281.5" stroke="#1b3c7e" stroke-width="1.1"/>
<line x1="455.9" y1="258.6" x2="455.9" y2="270.3" stroke="#b00a3a" stroke-width="1.1"/>
<line x1="453.15" y1="258.6" x2="458.65" y2="258.6" stroke="#b00a3a" stroke-width="1.1"/>
<line x1="453.15" y1="270.3" x2="458.65" y2="270.3" stroke="#b00a3a" stroke-width="1.1"/>
<circle cx="308.6" cy="224.1" r="1.8" fill="#1b3c7e"/>
<circle cx="310.7" cy="224.1" r="1.8" fill="#1b3c7e"/>
<circle cx="312.8" cy="224.1" r="1.8" fill="#1b3c7e"/>
<circle cx="314.9" cy="224.1" r="1.8" fill="#1b3c7e"/>
<circle cx="317" cy="224.1" r="1.8" fill="#1b3c7e"/>
<circle cx="327.5" cy="254.2" r="1.8" fill="#1b3c7e"/>
<circle cx="331.1" cy="253" r="1.8" fill="#1b3c7e"/>
<circle cx="329.9" cy="258.3" r="1.8" fill="#1b3c7e"/>
<circle cx="334.7" cy="260.2" r="1.8" fill="#1b3c7e"/>
<circle cx="346" cy="255.4" r="1.8" fill="#1b3c7e"/>
<circle cx="352.7" cy="260.7" r="1.8" fill="#1b3c7e"/>
<circle cx="349.9" cy="273.5" r="1.8" fill="#1b3c7e"/>
<circle cx="349.9" cy="280.4" r="1.8" fill="#1b3c7e"/>
<circle cx="364.8" cy="267.9" r="1.8" fill="#1b3c7e"/>
<circle cx="371.5" cy="268.4" r="1.8" fill="#1b3c7e"/>
<circle cx="372.5" cy="272.7" r="1.8" fill="#1b3c7e"/>
<circle cx="368.4" cy="279.5" r="1.8" fill="#1b3c7e"/>
<circle cx="383.2" cy="276.4" r="1.8" fill="#1b3c7e"/>
<circle cx="386.8" cy="278" r="1.8" fill="#1b3c7e"/>
<circle cx="390.5" cy="280" r="1.8" fill="#1b3c7e"/>
<circle cx="388.5" cy="279" r="1.8" fill="#1b3c7e"/>
<circle cx="414" cy="224.1" r="1.8" fill="#b00a3a"/>
<circle cx="418.1" cy="224.1" r="1.8" fill="#b00a3a"/>
<circle cx="422.2" cy="224.1" r="1.8" fill="#b00a3a"/>
<circle cx="433" cy="267.5" r="1.8" fill="#b00a3a"/>
<circle cx="436.9" cy="269.1" r="1.8" fill="#b00a3a"/>
<circle cx="441" cy="269.9" r="1.8" fill="#b00a3a"/>
<circle cx="452.6" cy="259.9" r="1.8" fill="#b00a3a"/>
<circle cx="459" cy="262.9" r="1.8" fill="#b00a3a"/>
<circle cx="455.9" cy="270.7" r="1.8" fill="#b00a3a"/>
<circle cx="470.7" cy="274.8" r="1.8" fill="#b00a3a"/>
<circle cx="473.9" cy="275.7" r="1.8" fill="#b00a3a"/>
<circle cx="478.3" cy="277.9" r="1.8" fill="#b00a3a"/>
<circle cx="489.1" cy="278.4" r="1.8" fill="#b00a3a"/>
<circle cx="492.7" cy="281.5" r="1.8" fill="#b00a3a"/>
<circle cx="496.9" cy="281.9" r="1.8" fill="#b00a3a"/>
</svg>
</body></html>
